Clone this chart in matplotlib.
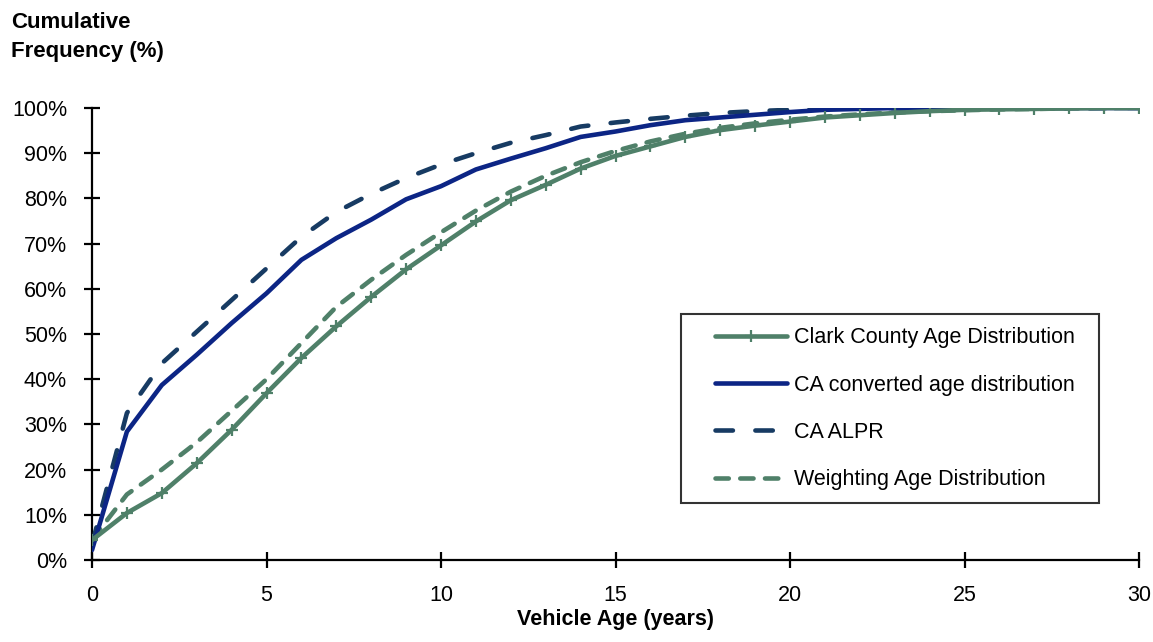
import matplotlib
matplotlib.use("Agg")
import matplotlib.pyplot as plt
from matplotlib.ticker import FuncFormatter
from matplotlib.legend_handler import HandlerLine2D

plt.rcParams['font.family'] = ['Liberation Sans', 'DejaVu Sans']

ages = list(range(0, 31))
clark = [4.4, 10.4, 14.8, 21.4, 28.8, 36.9, 44.7, 51.7, 58.2, 64.3, 69.6, 74.9, 79.6, 83.0,
         86.6, 89.4, 91.5, 93.6, 95.1, 96.1, 97.0, 97.9, 98.4, 98.9, 99.3, 99.6, 99.7, 99.8,
         99.9, 100.0, 100.0]
ca_conv = [2.2, 28.4, 38.7, 45.4, 52.4, 59.0, 66.4, 71.2, 75.3, 79.8, 82.7, 86.4, 88.8, 91.1,
           93.6, 94.8, 96.2, 97.3, 97.9, 98.5, 99.1, 99.6, 99.8, 100.0, 100.0, 100.0, 100.0,
           100.0, 100.0, 100.0, 100.0]
ca_alpr = [3.5, 32.5, 43.5, 50.5, 57.5, 64.5, 71.5, 77.0, 81.0, 84.5, 87.5, 90.0, 92.3, 94.0,
           95.9, 96.8, 97.6, 98.3, 98.9, 99.3, 99.6, 99.8, 100.0, 100.0, 100.0, 100.0, 100.0,
           100.0, 100.0, 100.0, 100.0]
weighting = [4.5, 14.5, 20.0, 26.0, 33.0, 40.0, 48.0, 56.0, 62.0, 67.5, 72.5, 77.3, 81.5, 85.0,
             88.0, 90.5, 92.6, 94.3, 95.6, 96.6, 97.4, 98.1, 98.6, 99.0, 99.3, 99.5, 99.7,
             99.8, 99.9, 100.0, 100.0]

labels = ["Clark County Age Distribution", "CA converted age distribution",
          "CA ALPR", "Weighting Age Distribution"]

green = '#4F8069'
blue = '#0C2585'
navy = '#173B63'
FS = 15.5

fig = plt.figure(figsize=(11.53, 6.42), dpi=100)
ax = fig.add_axes([92/1153, 1-560/642, (1139-92)/1153, (560-108)/642])

lw = 3.3
h_w, = ax.plot(ages, weighting, color=green, lw=lw, dashes=(2.9, 2.5),
               dash_capstyle='round', zorder=2)
h_a, = ax.plot(ages, ca_alpr, color=navy, lw=lw, dashes=(3.8, 4.9),
               dash_capstyle='round', zorder=3)
h_c, = ax.plot(ages, ca_conv, color=blue, lw=lw, solid_capstyle='round', zorder=4)
h_k, = ax.plot(ages, clark, color=green, lw=lw, marker='+', markersize=9,
               markeredgewidth=1.6, solid_capstyle='round', zorder=5)

ax.set_xlim(0, 30)
ax.set_ylim(0, 100)
ax.set_xticks([0, 5, 10, 15, 20, 25, 30])
ax.set_yticks(range(0, 101, 10))
ax.yaxis.set_major_formatter(FuncFormatter(lambda v, p: f"{int(v)}%"))

for s in ['top', 'right']:
    ax.spines[s].set_visible(False)
for s in ['left', 'bottom']:
    ax.spines[s].set_linewidth(1.6)
    ax.spines[s].set_color('black')

ax.tick_params(axis='both', direction='inout', length=11, width=1.6, labelsize=FS,
               colors='black', pad=12.5)

ax.set_xlabel("Vehicle Age (years)", fontsize=FS, fontweight='bold', labelpad=2)
fig.text(11/1153, 1-12/642, "Cumulative\nFrequency (%)", fontsize=FS + 0.5, fontweight='bold',
         ha='left', va='top', linespacing=1.5)

hmap = {h: HandlerLine2D(xpad=0.98) for h in [h_k, h_c, h_a, h_w]}
leg = ax.legend([h_k, h_c, h_a, h_w], labels, loc='lower left',
                bbox_to_anchor=((681-92)/1047, (560-503)/452, (1099-681)/1047, 0.2),
                mode='expand', borderaxespad=0, fontsize=FS, frameon=True, fancybox=False,
                edgecolor='black', labelspacing=1.22, handlelength=4.33, handletextpad=0.33,
                borderpad=0.6, numpoints=1, handler_map=hmap)
leg.get_frame().set_linewidth(1.5)

fig.savefig("out.png", dpi=100)
